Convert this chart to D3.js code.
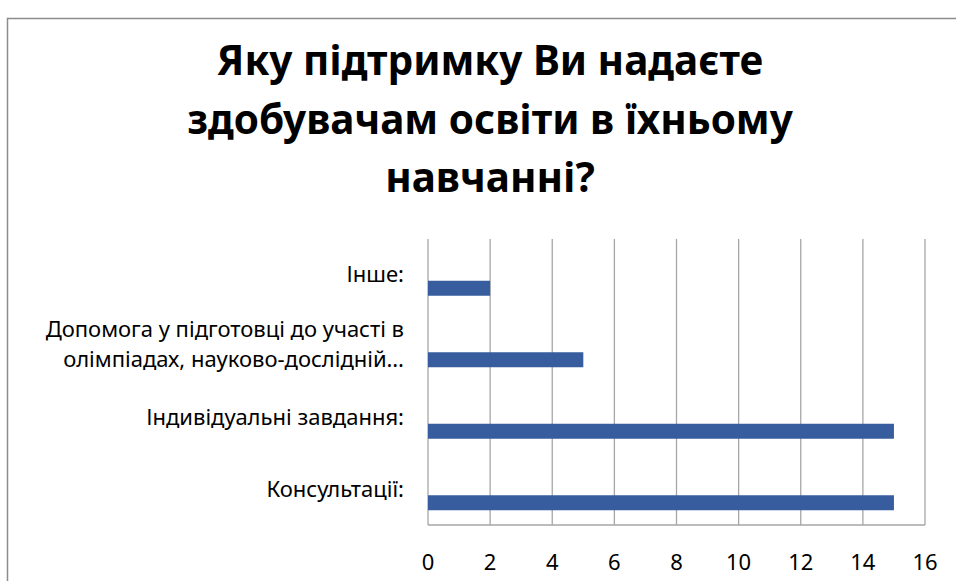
<!DOCTYPE html>
<html>
<head>
<meta charset="utf-8">
<script src="https://cdn.jsdelivr.net/npm/d3@7"></script>
<style>
  html, body { margin: 0; padding: 0; background: #fff; }
  svg { display: block; }
</style>
</head>
<body>
<div id="chart"></div>
<script>
// Data (top to bottom as drawn)
const categories = [
  'Інше:',
  'Допомога у підготовці до участі в\nолімпіадах, науково-дослідній…',
  'Індивідуальні завдання:',
  'Консультації:'
];
const values = [2, 5, 15, 15];
const xTicks = [0, 2, 4, 6, 8, 10, 12, 14, 16];
const titleLines = [
  'Яку підтримку Ви надаєте',
  'здобувачам освіти в їхньому',
  'навчанні?'
];

const W = 956, H = 581;
const plot = { left: 428, right: 925, top: 239, bottom: 525 };
const font = '"Noto Sans", "Open Sans", sans-serif';

const svg = d3.select('#chart').append('svg')
  .attr('width', W)
  .attr('height', H);

// chart frame (runs off the page on the right and bottom)
svg.append('rect')
  .attr('x', 7.5).attr('y', 18.5)
  .attr('width', 1000).attr('height', 700)
  .attr('fill', '#fff')
  .attr('stroke', '#8c8c8c')
  .attr('stroke-width', 1.5);

// Title
svg.append('g')
  .selectAll('text')
  .data(titleLines)
  .join('text')
  .attr('x', 490)
  .attr('y', (d, i) => 75 + i * 58.5)
  .attr('text-anchor', 'middle')
  .attr('font-family', font)
  .attr('font-weight', 700)
  .attr('font-size', '40.5px')
  .attr('fill', '#000')
  .text(d => d);

const x = d3.scaleLinear()
  .domain([0, 16])
  .range([plot.left, plot.right]);

const y = d3.scaleBand()
  .domain(categories)
  .range([plot.top, plot.bottom]);

// vertical gridlines
svg.append('g')
  .selectAll('line')
  .data(xTicks)
  .join('line')
  .attr('x1', d => x(d)).attr('x2', d => x(d))
  .attr('y1', plot.top).attr('y2', plot.bottom)
  .attr('stroke', '#a6a6a6')
  .attr('stroke-width', 1.3);

// bottom axis line
svg.append('line')
  .attr('x1', plot.left).attr('x2', plot.right)
  .attr('y1', plot.bottom).attr('y2', plot.bottom)
  .attr('stroke', '#a6a6a6')
  .attr('stroke-width', 1.3);

// bars (sit in the lower half of each band, like an Excel 2-series cluster)
svg.append('g')
  .selectAll('rect')
  .data(categories)
  .join('rect')
  .attr('x', x(0))
  .attr('y', d => y(d) + y.bandwidth() / 2 + 6)
  .attr('width', (d, i) => x(values[i]) - x(0))
  .attr('height', 15)
  .attr('fill', '#385d9f');

// category labels
const labels = svg.append('g')
  .selectAll('text')
  .data(categories)
  .join('text')
  .attr('text-anchor', 'end')
  .attr('font-family', font)
  .attr('font-size', '22px')
  .attr('fill', '#000');

labels.each(function(d) {
  const lines = d.split('\n');
  const cy = y(d) + y.bandwidth() / 2;
  d3.select(this).selectAll('tspan')
    .data(lines)
    .join('tspan')
    .attr('x', 404)
    .attr('y', (l, i) => cy + (i - (lines.length - 1) / 2) * 30 - (lines.length > 1 ? 2 : 0))
    .attr('dy', '0.35em')
    .text(l => l);
});

// x tick labels
svg.append('g')
  .selectAll('text')
  .data(xTicks)
  .join('text')
  .attr('x', d => x(d))
  .attr('y', 562)
  .attr('dy', '0.35em')
  .attr('text-anchor', 'middle')
  .attr('font-family', font)
  .attr('font-size', '22px')
  .attr('fill', '#000')
  .text(d => d);
</script>
</body>
</html>
